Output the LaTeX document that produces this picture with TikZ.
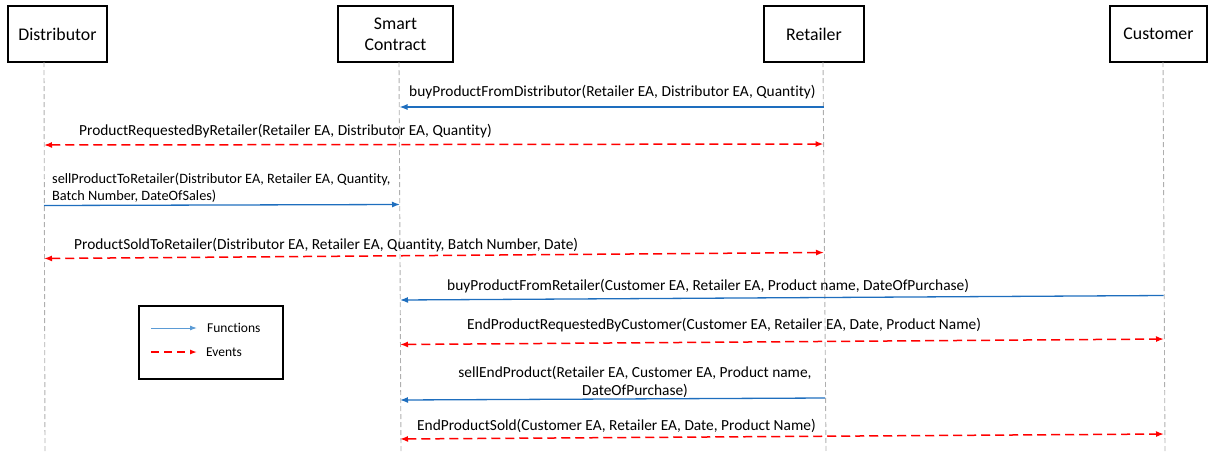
\documentclass[tikz,border=0pt]{standalone}
\usepackage{fontspec}
\setmainfont{Carlito}[Ligatures=NoCommon]
\usetikzlibrary{arrows.meta}
\definecolor{fblue}{RGB}{30,110,190}
\definecolor{lblue}{RGB}{91,155,213}
\definecolor{lifegray}{RGB}{175,175,175}
\tikzset{
  actor/.style={draw=black, line width=1.1pt, fill=white, inner sep=0pt, align=center, font=\fontsize{17.8}{21}\selectfont},
  lifeline/.style={draw=lifegray, line width=0.9pt, dash pattern=on 5pt off 3pt},
  fn/.style={draw=fblue, line width=1.3pt, -{Latex[length=8pt,width=6pt]}},
  ev/.style={draw=red, line width=1.5pt, dash pattern=on 9pt off 5pt, {Latex[length=8pt,width=6pt]}-{Latex[length=8pt,width=6pt]}},
  lbl/.style={inner sep=0pt, font=\fontsize{15.4}{18}\selectfont},
  leg/.style={inner sep=0pt, font=\fontsize{13.5}{16}\selectfont}
}
\begin{document}
\begin{tikzpicture}[x=1pt,y=-1pt]
\useasboundingbox (0,0) rectangle (1208,451);
% actors
\node[actor, minimum width=99pt, minimum height=56pt] (dist) at (57.5,34) {Distributor};
\node[actor, minimum width=115pt, minimum height=56pt] (sc) at (395.5,34) {Smart\\Contract};
\node[actor, minimum width=100pt, minimum height=56pt] (ret) at (814,34) {Retailer};
\node[actor, minimum width=97pt, minimum height=56pt] (cus) at (1158.5,34) {Customer};
% lifelines
\coordinate (dT) at (44,62);  \coordinate (dB) at (45,451);
\coordinate (sT) at (399,62); \coordinate (sB) at (401,451);
\coordinate (rT) at (823,62); \coordinate (rB) at (826,451);
\coordinate (cT) at (1163,62);\coordinate (cB) at (1165,451);
\draw[lifeline] (dT) -- (dB);
\draw[lifeline] (sT) -- (sB);
\draw[lifeline] (rT) -- (rB);
\draw[lifeline] (cT) -- (cB);
% message end points
\coordinate (r1) at (823.5,107); \coordinate (s1) at (399.5,107);
\coordinate (d2) at (44,145);    \coordinate (r2) at (823.5,144);
\coordinate (d3) at (44,205.5);  \coordinate (s3) at (400,204.5);
\coordinate (d4) at (44,258.5);  \coordinate (r4) at (824,252.5);
\coordinate (c5) at (1163.5,295.5); \coordinate (s5) at (400,300);
\coordinate (s6) at (400,344.5); \coordinate (c6) at (1164,339);
\coordinate (r7) at (825,398);   \coordinate (s7) at (400,400);
\coordinate (s8) at (400,439);   \coordinate (c8) at (1164,434);
% messages
\draw[fn] (r1) -- (s1);
\node[lbl, anchor=base west] (t1) at (409,96) {buyProductFromDistributor(Retailer EA, Distributor EA, Quantity)};
\draw[ev] (d2) -- (r2);
\node[lbl, anchor=base west] (t2) at (79,135) {ProductRequestedByRetailer(Retailer EA, Distributor EA, Quantity)};
\draw[fn] (d3) -- (s3);
\node[lbl, anchor=base west, font=\fontsize{14.3}{16.5}\selectfont, align=left] (t3) at (52,200) {sellProductToRetailer(Distributor EA, Retailer EA, Quantity,\\Batch Number, DateOfSales)};
\draw[ev] (d4) -- (r4);
\node[lbl, anchor=base west] (t4) at (74,249) {ProductSoldToRetailer(Distributor EA, Retailer EA, Quantity, Batch Number, Date)};
\draw[fn] (c5) -- (s5);
\node[lbl, anchor=base west] (t5) at (447,290) {buyProductFromRetailer(Customer EA, Retailer EA, Product name, DateOfPurchase)};
\draw[ev] (s6) -- (c6);
\node[lbl, anchor=base west] (t6) at (467,329) {EndProductRequestedByCustomer(Customer EA, Retailer EA, Date, Product Name)};
\draw[fn] (r7) -- (s7);
\node[lbl, anchor=base, align=center] (t7) at (635,395) {sellEndProduct(Retailer EA, Customer EA, Product name,\\DateOfPurchase)};
\draw[ev] (s8) -- (c8);
\node[lbl, anchor=base west] (t8) at (417,430) {EndProductSold(Customer EA, Retailer EA, Date, Product Name)};
% legend
\node[draw=black, line width=1.1pt, minimum width=144pt, minimum height=73pt, inner sep=0pt] (legend) at (211,342.5) {};
\coordinate (lf1) at (151,328); \coordinate (lf2) at (197,328);
\coordinate (le1) at (151,352); \coordinate (le2) at (197,352);
\draw[draw=lblue, line width=1pt, -{Latex[length=7pt,width=5pt]}] (lf1) -- (lf2);
\draw[draw=red, line width=1.3pt, dash pattern=on 8pt off 5pt, -{Latex[length=7pt,width=5pt]}] (le1) -- (le2);
\node[leg, anchor=west] (lt1) at (207,328) {Functions};
\node[leg, anchor=west] (lt2) at (206,352) {Events};
\end{tikzpicture}
\end{document}
